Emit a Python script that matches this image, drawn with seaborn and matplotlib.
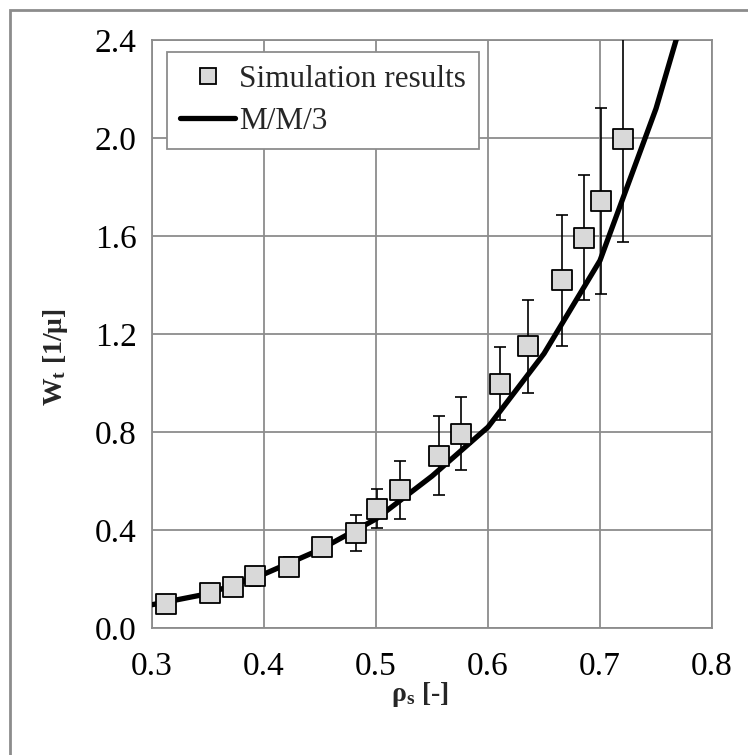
import numpy as np
import pandas as pd
import matplotlib
matplotlib.use("Agg")
import matplotlib.pyplot as plt
from matplotlib.lines import Line2D
from matplotlib.patches import Rectangle
import seaborn as sns

# Simulation results: utilisation, mean waiting time and error-bar half width
rho_sim = [0.3125, 0.352, 0.372, 0.392, 0.422, 0.452, 0.482, 0.501, 0.521,
           0.556, 0.576, 0.611, 0.636, 0.666, 0.686, 0.7005, 0.7205]
w_sim = [0.100, 0.142, 0.168, 0.212, 0.250, 0.330, 0.388, 0.487, 0.563,
         0.703, 0.793, 0.996, 1.150, 1.420, 1.593, 1.743, 1.995]
w_err = [0.020, 0.025, 0.036, 0.039, 0.038, 0.030, 0.072, 0.080, 0.118,
         0.161, 0.150, 0.149, 0.190, 0.267, 0.254, 0.380, 0.420]

# Analytical M/M/3 curve
rho_mm3 = [0.30, 0.35, 0.40, 0.45, 0.50, 0.55, 0.60, 0.65, 0.70, 0.75, 0.80]
w_mm3 = [0.095, 0.140, 0.220, 0.320, 0.445, 0.620, 0.820, 1.120, 1.500, 2.120, 2.900]

x_ticks = [0.3, 0.4, 0.5, 0.6, 0.7, 0.8]
y_ticks = [0.0, 0.4, 0.8, 1.2, 1.6, 2.0, 2.4]

sns.set_style("white")
plt.rcParams["font.family"] = ["Liberation Serif", "DejaVu Serif"]
plt.rcParams["mathtext.fontset"] = "custom"
plt.rcParams["mathtext.rm"] = "Liberation Serif"
plt.rcParams["mathtext.it"] = "Liberation Serif:italic"
plt.rcParams["mathtext.bf"] = "Liberation Serif:bold"

grey = "#8c8c8c"

fig = plt.figure(figsize=(7.48, 7.55), dpi=100)
ax = fig.add_axes([152 / 748, 127 / 755, 560 / 748, 588 / 755])

sim = pd.DataFrame({"rho": rho_sim, "w": w_sim, "err": w_err})
mm3 = pd.DataFrame({"rho": rho_mm3, "w": w_mm3})

ax.errorbar(sim["rho"], sim["w"], yerr=sim["err"], fmt="none",
            ecolor="black", elinewidth=1.2, capsize=4.3, capthick=1.2, zorder=3)
sns.lineplot(data=mm3, x="rho", y="w", color="black", linewidth=3.8,
             ax=ax, zorder=4, legend=False)
sns.scatterplot(data=sim, x="rho", y="w", marker="s", s=200,
                color="#d9d9d9", edgecolor="black", linewidth=1.3,
                ax=ax, zorder=5, legend=False)

ax.set_xlim(0.3, 0.8)
ax.set_ylim(0.0, 2.4)
ax.set_xticks(x_ticks)
ax.set_yticks(y_ticks)
ax.set_xticklabels([f"{v:.1f}" for v in x_ticks])
ax.set_yticklabels([f"{v:.1f}" for v in y_ticks])
ax.tick_params(axis="both", labelsize=24, direction="out", length=7,
               width=1.2, color=grey, pad=4, labelcolor="black")
ax.tick_params(axis="x", pad=10)

ax.grid(True, color=grey, linewidth=1.3)
ax.set_axisbelow(True)
for sp in ax.spines.values():
    sp.set_color(grey)
    sp.set_linewidth(1.3)

ax.set_xlabel(r"$\mathbf{\rho_s}$ [-]", fontsize=20, fontweight="bold")
ax.set_ylabel(r"$\mathbf{W_t}$ [1/μ]", fontsize=20, fontweight="bold")
ax.xaxis.set_label_coords(0.479, -0.088)
ax.yaxis.set_label_coords(-0.146, 0.461)

handles = [
    Line2D([], [], linestyle="none", marker="s", markersize=11.5,
           markerfacecolor="#d9d9d9", markeredgecolor="black", markeredgewidth=1.3),
    Line2D([], [], color="black", linewidth=3.8),
]
leg = ax.legend(handles, ["Simulation results", "M/M/3"], loc="upper left",
                bbox_to_anchor=(0.027, 0.98), fontsize=22.5, frameon=True,
                fancybox=False, framealpha=1, edgecolor=grey,
                handlelength=1.75, handletextpad=0.12, borderpad=0.42,
                labelspacing=0.42, borderaxespad=0)
leg.get_frame().set_linewidth(1.3)

# Outer chart border
fig.patches.append(Rectangle((10 / 748, -0.01), 1.1, (755 - 10) / 755 + 0.01,
                             transform=fig.transFigure, fill=False,
                             edgecolor=grey, linewidth=2))

fig.savefig("out.png", dpi=100)
